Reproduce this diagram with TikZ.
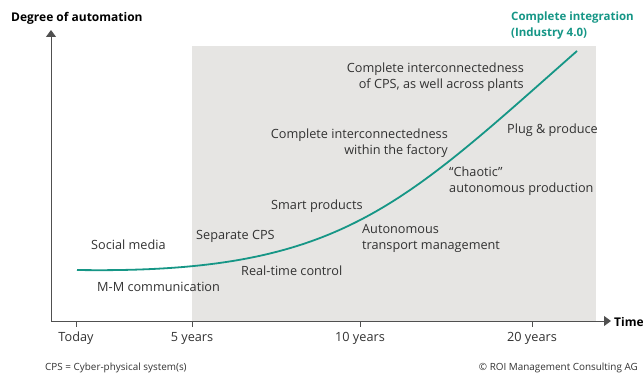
\documentclass[tikz,border=0pt]{standalone}
\usepackage{fontspec}
\setmainfont{Open Sans}
\usepackage{tikz}
\usetikzlibrary{arrows.meta}

\definecolor{teal40}{RGB}{22,150,134}
\definecolor{panelgray}{RGB}{230,229,227}
\definecolor{axisgray}{RGB}{80,80,80}
\definecolor{textgray}{RGB}{50,50,50}

\begin{document}
\begin{tikzpicture}[x=1pt,y=-1pt,
	lbl/.style={inner sep=0pt,text=textgray,font=\fontsize{12.7}{16}\selectfont},
	axislbl/.style={inner sep=0pt,text=black,font=\fontsize{12}{14}\selectfont\bfseries},
	note/.style={inner sep=0pt,text=textgray,font=\fontsize{9.9}{11}\selectfont},
	axis/.style={draw=axisgray,line width=0.9pt,-{Triangle[width=10pt,length=7pt]}},
	curve/.style={draw=teal40,line width=1.8pt}]
	\useasboundingbox (0,0) rectangle (643,374);
	\def\ax{321} %y of time axis
	
	%BACKGROUND
	\fill[panelgray] (192,46) rectangle (596,\ax);
	
	%AXES
	\coordinate (origin) at (51,\ax);
	\coordinate (ytip) at (51,30);
	\coordinate (xtip) at (611,\ax);
	\draw[axis] (origin) -- (ytip);
	\draw[axis] (origin) -- (xtip);
	\node[axislbl,anchor=west] (ylabel) at (11,18) {Degree of automation};
	\node[axislbl,anchor=west] (xlabel) at (614,322) {Time};
	
	\foreach \x/\t/\n in {76/Today/today,192/5 years/five,360/10 years/ten,532/20 years/twenty}{
		\draw[axisgray,line width=0.8pt] (\x,\ax) -- (\x,\ax+6);
		\node[lbl] (tick\n) at (\x,338) {\t};
	}
	
	%CURVE
	\coordinate (start) at (77,270);
	\coordinate (top) at (577,51);
	\draw[curve] (start) .. controls (337,274) and (397,210) .. (top);
	\node[axislbl,text=teal40,anchor=west,align=left,font=\fontsize{11.5}{16}\selectfont\bfseries] (goal) at (511,26) {Complete integration\\(Industry 4.0)};
	
	%LABELS
	\node[lbl,anchor=east,align=right] (acrossplants) at (524,77.5) {Complete interconnectedness\\of CPS, as well across plants};
	\node[lbl,anchor=east,align=right] (infactory) at (448,143) {Complete interconnectedness\\within the factory};
	\node[lbl,anchor=west] (plug) at (507,130) {Plug \& produce};
	\node[lbl,anchor=west,align=left] (chaotic) at (449,181) {“Chaotic”\\autonomous production};
	\node[lbl,anchor=west] (smart) at (271,206) {Smart products};
	\node[lbl,anchor=west] (separate) at (196,236) {Separate CPS};
	\node[lbl,anchor=west,align=left] (transport) at (362,238.5) {Autonomous\\transport management};
	\node[lbl,anchor=west] (social) at (91,245) {Social media};
	\node[lbl,anchor=west] (realtime) at (241,271) {Real-time control};
	\node[lbl,anchor=west] (mm) at (97,287) {M-M communication};
	
	%FOOTER
	\node[note,anchor=west] (cpsnote) at (45,368) {CPS = Cyber-physical system(s)};
	\node[note,anchor=east] (credit) at (638,368) {© ROI Management Consulting AG};
\end{tikzpicture}
\end{document}
